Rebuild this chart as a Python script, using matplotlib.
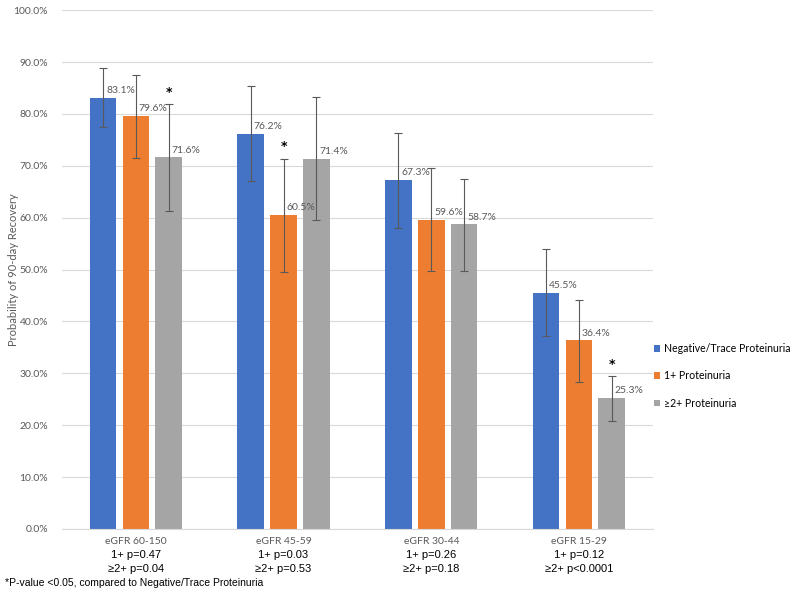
import matplotlib.pyplot as plt
import numpy as np

# данные графика
groups = ["eGFR 60-150", "eGFR 45-59", "eGFR 30-44", "eGFR 15-29"]
p_one = ["1+ p=0.47", "1+ p=0.03", "1+ p=0.26", "1+ p=0.12"]
p_two = ["≥2+ p=0.04", "≥2+ p=0.53", "≥2+ p=0.18", "≥2+ p<0.0001"]
series_names = ["Negative/Trace Proteinuria", "1+ Proteinuria", "≥2+ Proteinuria"]

neg_vals = [83.1, 76.2, 67.3, 45.5]
one_vals = [79.6, 60.5, 59.6, 36.4]
two_vals = [71.6, 71.4, 58.7, 25.3]

neg_lo = [77.4, 67.1, 58.1, 37.1]
neg_hi = [88.8, 85.4, 76.4, 53.9]
one_lo = [71.5, 49.5, 49.7, 28.4]
one_hi = [87.5, 71.4, 69.5, 44.2]
two_lo = [61.3, 59.6, 49.8, 20.9]
two_hi = [81.9, 83.2, 67.4, 29.4]

# звездочки: (серия, группа)
stars = [(2, 0), (1, 1), (2, 3)]

colors = ['#4472C4', '#ED7D31', '#A5A5A5']
vals = [neg_vals, one_vals, two_vals]
los = [neg_lo, one_lo, two_lo]
his = [neg_hi, one_hi, two_hi]

fig = plt.figure(figsize=(8, 5.97), dpi=100)
ax = fig.add_axes([0.0775, 0.114, 0.7385, 0.869])

x = np.arange(len(groups))
width = 0.18
step = 0.222

for i in range(3):
    xs = x + (i - 1) * step
    v = np.array(vals[i])
    lo = v - np.array(los[i])
    hi = np.array(his[i]) - v
    ax.bar(xs, v, width=width, color=colors[i], label=series_names[i], zorder=2)
    ax.errorbar(xs, v, yerr=[lo, hi], fmt='none', ecolor='#595959',
                elinewidth=0.8, capsize=3, capthick=0.8, zorder=3)
    for xi, vi in zip(xs, v):
        ax.text(xi + 0.02, vi + 0.5, f"{vi:.1f}%", ha='left', va='bottom',
                fontsize=7.5, color='#595959', family='Lato', zorder=4)

for s, g in stars:
    ax.text(g + (s - 1) * step, his[s][g] + 1.0, "*", ha='center', va='bottom',
            fontsize=9, fontweight='bold', color='black')

ax.set_xlim(-0.5, 3.5)
ax.set_ylim(0, 100)
ax.set_yticks(np.arange(0, 101, 10))
ax.set_yticklabels([f"{t:.1f}%" for t in np.arange(0, 101, 10)],
                   fontsize=7.5, color='#595959', family='Lato')
ax.tick_params(axis='y', length=0, pad=10)
ax.tick_params(axis='x', length=0)
ax.set_xticks(x)
ax.set_xticklabels([])
ax.grid(axis='y', color='#D9D9D9', linewidth=0.8, zorder=0)
for sp in ['top', 'right', 'left']:
    ax.spines[sp].set_visible(False)
ax.spines['bottom'].set_color('#D9D9D9')

ax.set_ylabel("Probability of 90-day Recovery", fontsize=8, color='#595959',
              family='Lato')
ax.yaxis.set_label_coords(-0.072, 0.5)

for xi, g, a, b in zip(x, groups, p_one, p_two):
    ax.text(xi, -2.5, g, ha='center', va='center', fontsize=7.5, color='#595959',
            family='Lato', clip_on=False)
    ax.text(xi, -5.1, a, ha='center', va='center', fontsize=8, color='black',
            family='Liberation Sans', clip_on=False)
    ax.text(xi, -7.7, b, ha='center', va='center', fontsize=8, color='black',
            family='Liberation Sans', clip_on=False)

fig.text(0.006, 0.0235, "*P-value <0.05, compared to Negative/Trace Proteinuria",
         fontsize=7.5, color='black', family='Liberation Sans', ha='left', va='center')

ax.legend(loc='center left', bbox_to_anchor=(0.995, 0.295), frameon=False,
          prop={'family': 'Lato', 'size': 7.6}, handlelength=0.6, handleheight=0.6,
          handletextpad=0.35, labelspacing=1.55, borderaxespad=0.0)

plt.savefig('out.png', dpi=100)
